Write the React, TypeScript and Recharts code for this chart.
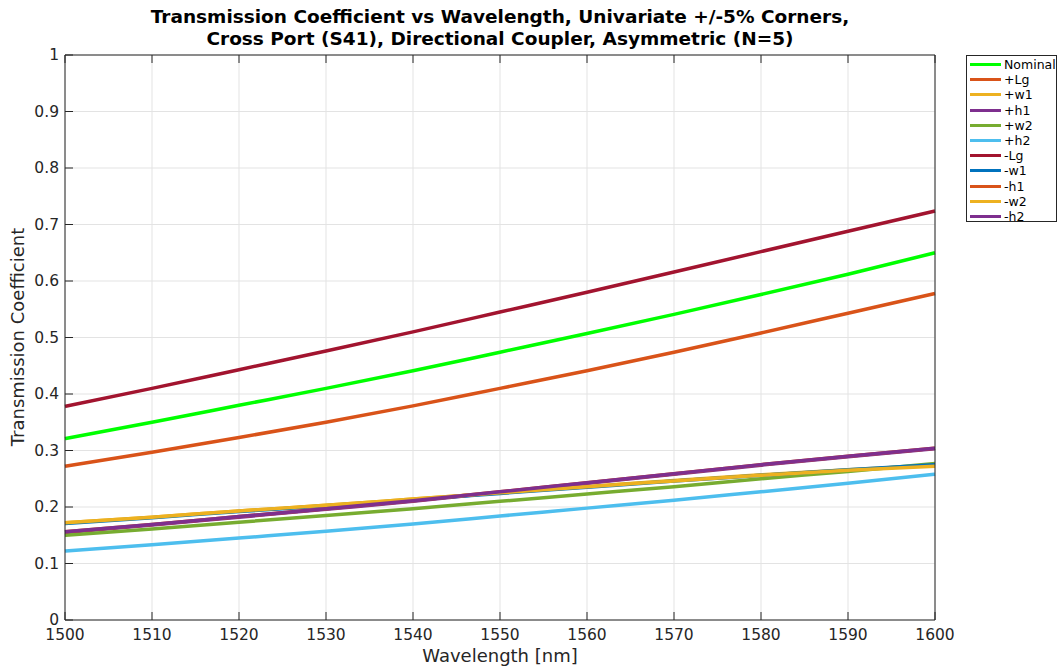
import React from "react"
import { LineChart, Line, XAxis, YAxis, CartesianGrid } from "recharts"

const wavelengths = [1500, 1510, 1520, 1530, 1540, 1550, 1560, 1570, 1580, 1590, 1600]

const nominal = [0.321, 0.350, 0.380, 0.410, 0.441, 0.474, 0.507, 0.541, 0.576, 0.612, 0.650]
const plusLg = [0.272, 0.297, 0.323, 0.350, 0.379, 0.410, 0.441, 0.474, 0.508, 0.543, 0.578]
const plusW1 = [0.172, 0.182, 0.193, 0.203, 0.214, 0.225, 0.236, 0.247, 0.257, 0.266, 0.274]
const plusH1 = [0.155, 0.168, 0.182, 0.196, 0.210, 0.226, 0.242, 0.258, 0.274, 0.289, 0.303]
const plusW2 = [0.150, 0.161, 0.173, 0.185, 0.197, 0.210, 0.223, 0.236, 0.250, 0.263, 0.277]
const plusH2 = [0.122, 0.133, 0.145, 0.157, 0.170, 0.184, 0.198, 0.212, 0.227, 0.242, 0.258]
const minusLg = [0.378, 0.410, 0.443, 0.476, 0.510, 0.545, 0.580, 0.616, 0.652, 0.688, 0.724]
const minusW1 = [0.171, 0.181, 0.192, 0.202, 0.213, 0.224, 0.235, 0.246, 0.256, 0.266, 0.275]
const minusH1 = [0.156, 0.169, 0.183, 0.197, 0.211, 0.227, 0.243, 0.259, 0.275, 0.290, 0.304]
const minusW2 = [0.172, 0.182, 0.193, 0.203, 0.214, 0.225, 0.236, 0.246, 0.256, 0.265, 0.272]
const minusH2 = [0.156, 0.169, 0.183, 0.197, 0.211, 0.227, 0.243, 0.259, 0.275, 0.290, 0.304]

const xTicks = [1500, 1510, 1520, 1530, 1540, 1550, 1560, 1570, 1580, 1590, 1600]
const yTicks = [0, 0.1, 0.2, 0.3, 0.4, 0.5, 0.6, 0.7, 0.8, 0.9, 1]

const series = [
  { key: "nominal", name: "Nominal", color: "#00FF00", values: nominal },
  { key: "plusLg", name: "+Lg", color: "#D95319", values: plusLg },
  { key: "plusW1", name: "+w1", color: "#EDB120", values: plusW1 },
  { key: "plusH1", name: "+h1", color: "#7E2F8E", values: plusH1 },
  { key: "plusW2", name: "+w2", color: "#77AC30", values: plusW2 },
  { key: "plusH2", name: "+h2", color: "#4DBEEE", values: plusH2 },
  { key: "minusLg", name: "-Lg", color: "#A2142F", values: minusLg },
  { key: "minusW1", name: "-w1", color: "#0072BD", values: minusW1 },
  { key: "minusH1", name: "-h1", color: "#D95319", values: minusH1 },
  { key: "minusW2", name: "-w2", color: "#EDB120", values: minusW2 },
  { key: "minusH2", name: "-h2", color: "#7E2F8E", values: minusH2 },
]

const data = wavelengths.map((w, i) => {
  const row: Record<string, number> = { wl: w }
  series.forEach((s) => (row[s.key] = s.values[i]))
  return row
})

const FONT = "'DejaVu Sans', sans-serif"
const AXIS = "#262626"

// MATLAB-style ticks point into the plot box
const BottomTick = (props: any) => {
  const { x, y, payload } = props
  return (
    <g>
      <line x1={x} y1={y} x2={x} y2={y - 8} stroke={AXIS} />
      <text x={x} y={y + 20} textAnchor="middle" fill={AXIS} fontSize={15.5} fontFamily={FONT}>
        {payload.value}
      </text>
    </g>
  )
}

const TopTick = (props: any) => {
  const { x, y } = props
  return <line x1={x} y1={y} x2={x} y2={y + 8} stroke={AXIS} />
}

const LeftTick = (props: any) => {
  const { x, y, payload } = props
  return (
    <g>
      <line x1={x} y1={y} x2={x + 8} y2={y} stroke={AXIS} />
      <text x={x - 6} y={y + 5} textAnchor="end" fill={AXIS} fontSize={15.5} fontFamily={FONT}>
        {payload.value}
      </text>
    </g>
  )
}

const RightTick = (props: any) => {
  const { x, y } = props
  return <line x1={x} y1={y} x2={x - 8} y2={y} stroke={AXIS} />
}

export default function App() {
  return (
    <div style={{ position: "absolute", left: 0, top: 0, width: 1058, height: 671, background: "#fff", fontFamily: FONT }}>
      <LineChart width={1058} height={671} data={data} margin={{ top: 54, right: 122, bottom: 0, left: 0 }}>
        <CartesianGrid stroke="#e3e3e3" horizontal vertical />
        <XAxis
          dataKey="wl"
          type="number"
          domain={[1500, 1600]}
          ticks={xTicks}
          interval={0}
          height={51}
          tickSize={0}
          tickMargin={0}
          tickLine={false}
          stroke={AXIS}
          tick={BottomTick}
        />
        <XAxis
          xAxisId="top"
          orientation="top"
          dataKey="wl"
          type="number"
          domain={[1500, 1600]}
          ticks={xTicks}
          interval={0}
          height={1}
          tickSize={0}
          tickMargin={0}
          tickLine={false}
          stroke={AXIS}
          tick={TopTick}
        />
        <YAxis
          type="number"
          domain={[0, 1]}
          ticks={yTicks}
          interval={0}
          width={65}
          tickSize={0}
          tickMargin={0}
          tickLine={false}
          stroke={AXIS}
          tick={LeftTick}
        />
        <YAxis
          yAxisId="right"
          orientation="right"
          type="number"
          domain={[0, 1]}
          ticks={yTicks}
          interval={0}
          width={1}
          tickSize={0}
          tickMargin={0}
          tickLine={false}
          stroke={AXIS}
          tick={RightTick}
        />
        {series.map((s) => (
          <Line
            key={s.key}
            dataKey={s.key}
            name={s.name}
            stroke={s.color}
            strokeWidth={3.5}
            dot={false}
            type="monotone"
            isAnimationActive={false}
          />
        ))}
      </LineChart>
      <div
        style={{
          position: "absolute",
          left: 65,
          width: 870,
          top: 6,
          textAlign: "center",
          fontWeight: "bold",
          fontSize: 18.5,
          lineHeight: "22px",
          color: "#000",
        }}
      >
        Transmission Coefficient vs Wavelength, Univariate +/-5% Corners,
        <br />
        Cross Port (S41), Directional Coupler, Asymmetric (N=5)
      </div>
      <div
        style={{
          position: "absolute",
          left: 500 - 150,
          width: 300,
          top: 645,
          textAlign: "center",
          fontSize: 18,
          color: AXIS,
        }}
      >
        Wavelength [nm]
      </div>
      <div
        style={{
          position: "absolute",
          left: 18 - 150,
          top: 337 - 12,
          width: 300,
          textAlign: "center",
          fontSize: 18,
          lineHeight: "24px",
          color: AXIS,
          transform: "rotate(-90deg)",
        }}
      >
        Transmission Coefficient
      </div>
      <div
        style={{
          position: "absolute",
          left: 966,
          top: 55,
          width: 91,
          height: 167,
          border: "1px solid #262626",
          boxSizing: "border-box",
          background: "#fff",
          paddingTop: 1,
        }}
      >
        {series.map((s) => (
          <div key={s.key} style={{ display: "flex", alignItems: "center", height: 15.2, fontSize: 12.5, color: "#000" }}>
            <div style={{ width: 31, height: 3, background: s.color, marginLeft: 3, marginRight: 3, flexShrink: 0 }} />
            <span>{s.name}</span>
          </div>
        ))}
      </div>
    </div>
  )
}
